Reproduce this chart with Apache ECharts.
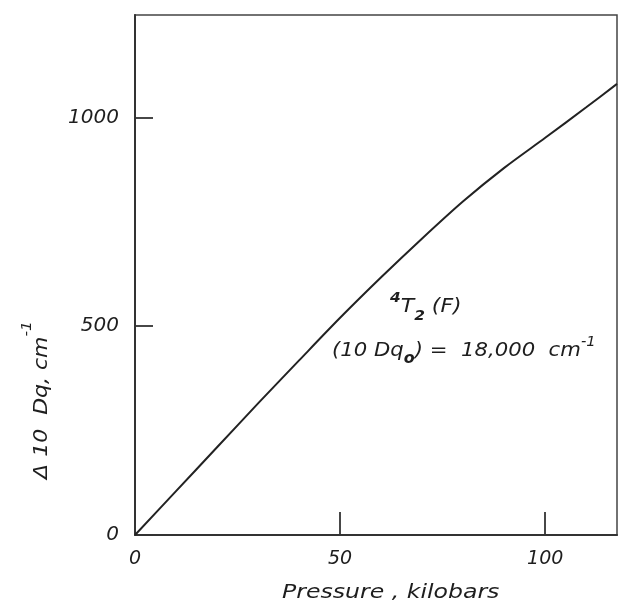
<!DOCTYPE html>
<html>
<head>
<meta charset="utf-8">
<script src="https://cdn.jsdelivr.net/npm/echarts@6/dist/echarts.min.js"></script>
<style>html,body{margin:0;padding:0;background:#fff}#c{width:619px;height:603px}</style>
</head>
<body>
<div id="c"></div>
<script>
// Pressure (kilobars)
var pressure = [0, 10, 20, 30, 40, 50, 60, 70, 80, 90, 100, 110, 117.5];
// Δ10Dq (cm^-1)
var deltaDq = [0, 105, 210, 315, 418, 520, 617, 710, 799, 879, 951, 1024, 1080];
var xTicks = [0, 50, 100];
var yTicks = [0, 500, 1000];

var FONT = 'DejaVu Sans';
var INK = '#1e1e1e';
var chart = echarts.init(document.getElementById('c'));
var pts = pressure.map(function (p, i) { return [p, deltaDq[i]]; });

chart.setOption({
  backgroundColor: '#fff',
  animation: false,
  grid: { left: 135, right: 2, top: 15, bottom: 68, show: true, borderColor: '#444', borderWidth: 1.5, backgroundColor: 'transparent' },
  xAxis: {
    type: 'value', min: 0, max: 117.5, interval: 50,
    axisLine: { show: true, lineStyle: { color: '#333', width: 2 } },
    axisTick: { show: true, inside: true, length: 23, lineStyle: { color: '#333', width: 1.8 } },
    axisLabel: { showMaxLabel: false, margin: 15, fontFamily: FONT, fontStyle: 'italic', fontSize: 19, color: INK,
      formatter: function (v) { return xTicks.indexOf(v) >= 0 ? String(v) : ''; } },
    splitLine: { show: false }
  },
  yAxis: {
    type: 'value', min: 0, max: 1245, interval: 500,
    axisLine: { show: true, lineStyle: { color: '#333', width: 2 } },
    axisTick: { show: true, inside: true, length: 18, lineStyle: { color: '#333', width: 1.8 } },
    axisLabel: { showMaxLabel: false, margin: 16, fontFamily: FONT, fontStyle: 'italic', fontSize: 20, color: INK,
      formatter: function (v) { return yTicks.indexOf(v) >= 0 ? String(v) : ''; } },
    splitLine: { show: false }
  },
  series: [{
    type: 'line', data: pts, smooth: 0.3, symbol: 'none',
    lineStyle: { color: '#222', width: 2 }
  }],
  graphic: [
    { type: 'text', x: 282, y: 593, scaleX: 1.18,
      style: { text: 'Pressure , kilobars', textAlign: 'left', textVerticalAlign: 'middle', fontFamily: FONT, fontStyle: 'italic', fontSize: 20, fill: INK } },
    { type: 'text', x: 36, y: 400, rotation: Math.PI / 2, scaleX: 1.1,
      style: { text: '{m|Δ 10  Dq, cm}{s|-1}', textAlign: 'center', textVerticalAlign: 'middle',
        rich: { m: { fontFamily: FONT, fontStyle: 'italic', fontSize: 20, fill: INK, lineHeight: 32, verticalAlign: 'bottom' },
                s: { fontFamily: FONT, fontStyle: 'italic', fontSize: 14, fill: INK, verticalAlign: 'top', lineHeight: 32 } } } },
    { type: 'text', x: 390, y: 307, scaleX: 1.1,
      style: { text: '{s|4}{m|T}{b|2}{m| (F)}', textAlign: 'left', textVerticalAlign: 'middle',
        rich: { m: { fontFamily: FONT, fontStyle: 'italic', fontSize: 20, fill: INK, lineHeight: 32, verticalAlign: 'middle' },
                s: { fontFamily: FONT, fontStyle: 'italic', fontWeight: 'bold', fontSize: 14, fill: INK, verticalAlign: 'top', lineHeight: 32 },
                b: { fontFamily: FONT, fontStyle: 'italic', fontWeight: 'bold', fontSize: 14, fill: INK, verticalAlign: 'bottom', lineHeight: 32 } } } },
    { type: 'text', x: 332, y: 351, scaleX: 1.06,
      style: { text: '{m|(10 Dq}{b|o}{m|) =  18,000  cm}{s|-1}', textAlign: 'left', textVerticalAlign: 'middle',
        rich: { m: { fontFamily: FONT, fontStyle: 'italic', fontSize: 20, fill: INK, lineHeight: 32, verticalAlign: 'middle' },
                s: { fontFamily: FONT, fontStyle: 'italic', fontSize: 14, fill: INK, verticalAlign: 'top', lineHeight: 32 },
                b: { fontFamily: FONT, fontStyle: 'italic', fontWeight: 'bold', fontSize: 15, fill: INK, verticalAlign: 'bottom', lineHeight: 32 } } } }
  ]
});
</script>
</body>
</html>
